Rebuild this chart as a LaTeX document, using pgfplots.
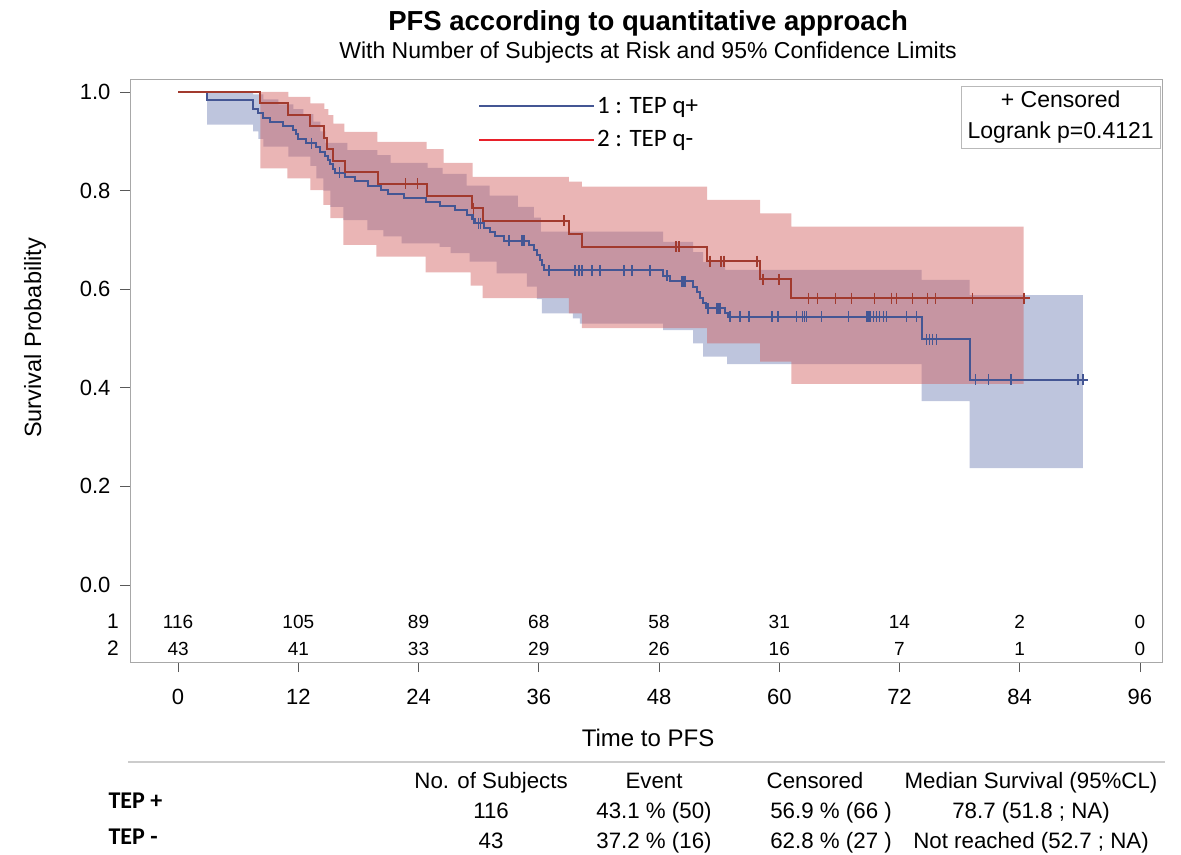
\documentclass[border=0pt]{standalone}
\usepackage{fontspec}
\setmainfont{Liberation Sans}
\newfontfamily\legendfont{Carlito}
\usepackage{pgfplots}
\pgfplotsset{compat=1.18}
\usepgfplotslibrary{fillbetween}

\definecolor{kmblue}{HTML}{445694}
\definecolor{kmred}{HTML}{A23A2E}
\definecolor{bandblue}{HTML}{6F7EB3}
\definecolor{bandred}{HTML}{D05B5B}
\definecolor{legred}{RGB}{232,32,42}
\definecolor{framegray}{HTML}{A8A8A8}

\begin{document}
\begin{tikzpicture}
\begin{axis}[
  width=1032pt, height=582pt, scale only axis,
  xmin=-4.8, xmax=98.2, ymin=-0.1562, ymax=1.0243,
  clip=false,
  axis line style={draw=framegray, line width=1pt},
  xtick={0,12,24,36,48,60,72,84,96},
  xticklabels={0,12,24,36,48,60,72,84,96},
  ytick={0,0.2,0.4,0.6,0.8,1},
  yticklabels={0.0,0.2,0.4,0.6,0.8,1.0},
  xtick pos=bottom, ytick pos=left, tick align=outside,
  major tick length=10pt,
  tick style={draw=black!65, line width=0.9pt},
  tick label style={font=\fontsize{22}{26}\selectfont},
  xticklabel style={yshift=-14pt},
  yticklabel style={xshift=-6pt},
  xlabel={Time to PFS}, ylabel={Survival Probability},
  xlabel style={at={(axis description cs:0.502,-0.1306)}, anchor=center, font=\fontsize{24}{28}\selectfont},
  ylabel style={at={(axis description cs:-0.092,0.557)}, anchor=center, font=\fontsize{23.5}{28}\selectfont},
  legend style={at={(axis description cs:0.3343,0.9777)}, anchor=north west, draw=none, fill=none,
    font=\legendfont\fontsize{25}{29}\selectfont, nodes={inner sep=2pt}, row sep=12pt},
  legend cell align=left,
  legend image code/.code={\draw[#1] (0pt,0pt) -- (115pt,0pt);},
]

% ---------- Blue (group 1) confidence band ----------
\addplot[name path=BU, const plot, draw=none, forget plot] coordinates {
(0,1.0) (7.5,0.995) (8.5,0.985) (10.0,0.975) (11.5,0.965) (12.5,0.955) (13.5,0.94) (14.2,0.92)
(14.7,0.897) (16.9,0.882) (19.9,0.872) (21.2,0.856) (24.9,0.846) (26.4,0.834) (28.8,0.81)
(31.1,0.79) (33.9,0.767) (35.5,0.745) (36.2,0.717) (48.4,0.696) (51.4,0.675) (52.4,0.655)
(54.6,0.639) (74.2,0.619) (79.0,0.588) (90.3,0.588)};
\addplot[name path=BL, const plot, draw=none, forget plot] coordinates {
(0,1.0) (2.9,0.934) (7.5,0.92) (8.0,0.905) (8.5,0.889) (11.0,0.869) (13.2,0.85) (13.8,0.825)
(14.5,0.80) (15.2,0.767) (16.5,0.740) (18.9,0.72) (20.5,0.707) (22.3,0.693) (26.1,0.686)
(27.2,0.673) (29.1,0.656) (31.8,0.632) (34.8,0.605) (35.8,0.58) (36.3,0.551) (39.4,0.541)
(40.1,0.53) (48.4,0.517) (51.4,0.49) (52.4,0.463) (54.8,0.448) (74.2,0.373) (79.0,0.237) (90.3,0.237)};
\addplot[bandblue, fill opacity=0.45, draw=none, forget plot] fill between[of=BU and BL];

% ---------- Red (group 2) confidence band ----------
\addplot[name path=RU, const plot, draw=none, forget plot] coordinates {
(0,1.0) (8.2,1.0) (11.0,0.99) (13.2,0.977) (14.6,0.965) (15.0,0.953) (15.5,0.936) (16.6,0.919)
(19.9,0.899) (24.8,0.884) (26.5,0.856) (29.4,0.828) (39.0,0.818) (40.3,0.808) (52.8,0.781)
(58.1,0.754) (61.2,0.727) (84.4,0.727)};
\addplot[name path=RL, const plot, draw=none, forget plot] coordinates {
(0,1.0) (8.2,0.845) (10.9,0.825) (13.2,0.801) (14.5,0.771) (15.2,0.744) (16.5,0.690)
(19.8,0.666) (24.7,0.634) (29.2,0.607) (30.4,0.582) (39.0,0.551) (40.3,0.521) (52.8,0.490)
(58.1,0.453) (61.2,0.408) (84.4,0.408)};
\addplot[bandred, fill opacity=0.45, draw=none, forget plot] fill between[of=RU and RL];

% ---------- Blue survival curve ----------
\addplot[kmblue, line width=2pt, const plot, forget plot] coordinates {
(0,1.0) (2.9,0.983) (7.5,0.966) (8.0,0.957) (8.5,0.948) (9.2,0.940) (10.5,0.931) (11.5,0.922)
(11.8,0.914) (11.95,0.905) (12.8,0.896) (13.8,0.888) (14.2,0.879) (14.7,0.870) (15.0,0.862)
(15.2,0.853) (15.5,0.844) (15.7,0.836) (16.7,0.827) (17.7,0.819) (19.0,0.810) (20.3,0.802)
(20.9,0.793) (22.5,0.785) (24.7,0.776) (26.1,0.768) (27.6,0.760) (28.8,0.751) (29.3,0.743)
(29.6,0.734) (30.5,0.725) (31.1,0.716) (31.6,0.707) (32.5,0.698) (35.0,0.689) (35.5,0.679)
(35.8,0.669) (36.1,0.659) (36.3,0.649) (36.5,0.638) (48.4,0.627) (49.1,0.616) (51.4,0.605)
(51.8,0.594) (52.1,0.583) (52.4,0.572) (52.7,0.561) (54.6,0.552) (54.9,0.544) (74.2,0.498)
(79.0,0.416) (90.8,0.416)};
\addplot[kmblue, only marks, mark=|, mark size=5.5pt, mark options={line width=1.6pt}, forget plot] coordinates {
(13.3,0.896) (16.1,0.836) (29.5,0.743) (30.0,0.734) (30.2,0.734) (33.0,0.698) (34.3,0.698)
(34.5,0.698) (37.0,0.638) (39.6,0.638) (40.0,0.638) (40.3,0.638) (41.3,0.638) (42.1,0.638)
(44.5,0.638) (45.3,0.638) (47.1,0.638) (48.8,0.627) (50.3,0.616) (50.5,0.616) (50.6,0.616)
(52.9,0.561) (53.8,0.561) (54.0,0.561) (54.1,0.561) (55.1,0.544) (56.1,0.544) (57.0,0.544)
(59.3,0.544) (59.9,0.544) (61.7,0.544) (62.3,0.544) (62.5,0.544) (62.7,0.544) (64.2,0.544)
(66.9,0.544) (68.7,0.544) (68.8,0.544) (68.9,0.544) (69.0,0.544) (69.1,0.544) (69.4,0.544)
(69.7,0.544) (70.0,0.544) (70.4,0.544) (70.7,0.544) (72.7,0.544) (73.7,0.544) (74.7,0.498)
(75.0,0.498) (75.3,0.498) (75.7,0.498) (79.6,0.416) (80.9,0.416) (83.1,0.416) (89.8,0.416)
(90.3,0.416)};

% ---------- Red survival curve ----------
\addplot[kmred, line width=2pt, const plot, forget plot] coordinates {
(0,1.0) (8.2,0.977) (11.0,0.953) (13.2,0.930) (14.6,0.907) (14.9,0.884) (15.5,0.860)
(16.7,0.837) (20.0,0.814) (24.8,0.789) (29.3,0.764) (30.4,0.739) (39.0,0.712) (40.3,0.686)
(52.8,0.657) (58.1,0.620) (61.2,0.582) (85.0,0.582)};
\addplot[kmred, only marks, mark=|, mark size=5.5pt, mark options={line width=1.6pt}, forget plot] coordinates {
(22.7,0.814) (23.9,0.814) (29.5,0.764) (38.5,0.739) (49.7,0.686) (50.0,0.686) (53.1,0.657)
(54.2,0.657) (54.5,0.657) (57.8,0.657) (58.4,0.620) (60.0,0.620) (62.9,0.582) (63.8,0.582)
(65.6,0.582) (67.2,0.582) (69.5,0.582) (71.2,0.582) (71.7,0.582) (73.3,0.582) (74.8,0.582)
(75.6,0.582) (79.3,0.582) (84.4,0.582)};

% ---------- Legend ----------
\addlegendimage{draw=kmblue, line width=1.8pt}
\addlegendentry{1 : TEP q+}
\addlegendimage{draw=legred, line width=1.8pt}
\addlegendentry{2 : TEP q-}

% ---------- Inset box ----------
\node[draw=framegray!80, fill=white, align=center, anchor=north east, inner xsep=6pt, inner ysep=5pt,
  font=\fontsize{23}{31}\selectfont] at (axis description cs:0.998,0.9897) {+ Censored\\Logrank p=0.4121};

% ---------- Titles ----------
\node[font=\bfseries\fontsize{27.5}{30}\selectfont] at (axis description cs:0.502,1.0980) {PFS according to quantitative approach};
\node[font=\fontsize{23}{26}\selectfont] at (axis description cs:0.502,1.0473) {With Number of Subjects at Risk and 95\% Confidence Limits};

% ---------- Numbers at risk ----------
\begin{scope}[every node/.style={font=\fontsize{19}{22}\selectfont, anchor=base}]
\node at (axis cs:-6.5,-0.0872) {\fontsize{21}{24}\selectfont 1};
\node at (axis cs:-6.5,-0.1420) {\fontsize{21}{24}\selectfont 2};
\node at (axis cs:0,-0.0872) {116}; \node at (axis cs:12,-0.0872) {105}; \node at (axis cs:24,-0.0872) {89};
\node at (axis cs:36,-0.0872) {68}; \node at (axis cs:48,-0.0872) {58}; \node at (axis cs:60,-0.0872) {31};
\node at (axis cs:72,-0.0872) {14}; \node at (axis cs:84,-0.0872) {2}; \node at (axis cs:96,-0.0872) {0};
\node at (axis cs:0,-0.1420) {43}; \node at (axis cs:12,-0.1420) {41}; \node at (axis cs:24,-0.1420) {33};
\node at (axis cs:36,-0.1420) {29}; \node at (axis cs:48,-0.1420) {26}; \node at (axis cs:60,-0.1420) {16};
\node at (axis cs:72,-0.1420) {7}; \node at (axis cs:84,-0.1420) {1}; \node at (axis cs:96,-0.1420) {0};
\end{scope}

% ---------- Summary table ----------
\draw[black!20, line width=1.2pt] (axis cs:-5.0,-0.359) -- (axis cs:98.5,-0.359);
\begin{scope}[every node/.style={font=\fontsize{22.3}{26}\selectfont, anchor=base}]
\node at (axis cs:31.24,-0.4118) {No. of Subjects};
\node at (axis cs:47.5,-0.4118) {Event};
\node at (axis cs:63.57,-0.4118) {Censored};
\node at (axis cs:85.13,-0.4118) {Median Survival (95\%CL)};
\node at (axis cs:31.24,-0.4726) {116};
\node at (axis cs:47.5,-0.4726) {43.1 \% (50)};
\node at (axis cs:65.17,-0.4726) {56.9 \% (66 )};
\node at (axis cs:85.13,-0.4726) {78.7 (51.8 ; NA)};
\node at (axis cs:31.24,-0.5335) {43};
\node at (axis cs:47.5,-0.5335) {37.2 \% (16)};
\node at (axis cs:65.17,-0.5335) {62.8 \% (27 )};
\node at (axis cs:85.13,-0.5335) {Not reached (52.7 ; NA)};
\end{scope}
\node[anchor=base west, font=\legendfont\bfseries\fontsize{24}{28}\selectfont] at (axis cs:-7.29,-0.4523) {TEP +};
\node[anchor=base west, font=\legendfont\bfseries\fontsize{24}{28}\selectfont] at (axis cs:-7.29,-0.5254) {TEP -};

\coordinate (imgSW) at (axis description cs:-0.12597,-0.3299);
\coordinate (imgNE) at (axis description cs:1.01841,1.13746);
\end{axis}
\pgfresetboundingbox
\path[use as bounding box] (imgSW) rectangle (imgNE);
\end{tikzpicture}
\end{document}
